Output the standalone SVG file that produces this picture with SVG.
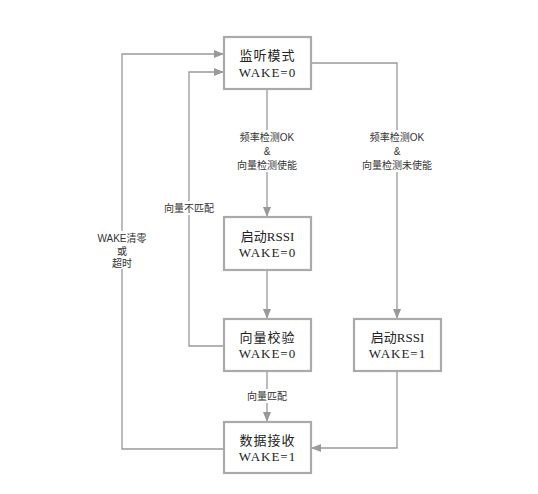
<svg xmlns="http://www.w3.org/2000/svg" width="538" height="494" viewBox="0 0 538 494">
<defs>
<marker id="ah" markerWidth="10" markerHeight="8" refX="10" refY="4" orient="auto" markerUnits="userSpaceOnUse">
<path d="M0,0 L10,4 L0,8 Z" fill="#999"/>
</marker>
<style>
.box{fill:#fff;stroke:#aaa;stroke-width:2.2}
.t{font-family:"Liberation Serif","Noto Sans CJK SC",serif;font-size:13px;fill:#222;text-anchor:middle}
.l{font-family:"Liberation Sans","Noto Sans CJK SC",sans-serif;font-size:10px;fill:#333;text-anchor:middle}
.c{fill:none;stroke:#999;stroke-width:1.3}
.bg{fill:#fff}
</style>
</defs>
<rect width="538" height="494" fill="#fff"/>
<g id="connectors">
<path class="c" d="M267,89 V217" marker-end="url(#ah)"/>
<path class="c" d="M267,270 V319" marker-end="url(#ah)"/>
<path class="c" d="M267,371 V422" marker-end="url(#ah)"/>
<path class="c" d="M311,63 H397 V319" marker-end="url(#ah)"/>
<path class="c" d="M397,371 V448 H311" marker-end="url(#ah)"/>
<path class="c" d="M224,346 H189 V72 H224" marker-end="url(#ah)"/>
<path class="c" d="M224,449 H122 V54 H224" marker-end="url(#ah)"/>
<rect class="bg" x="236" y="130" width="62" height="42"/>
<text class="l" x="267" y="141">频率检测OK</text>
<text class="l" x="267" y="155">&amp;</text>
<text class="l" x="267" y="169">向量检测使能</text>
<rect class="bg" x="362" y="130" width="70" height="42"/>
<text class="l" x="397" y="141">频率检测OK</text>
<text class="l" x="397" y="155">&amp;</text>
<text class="l" x="397" y="169">向量检测未使能</text>
<rect class="bg" x="164" y="201" width="50" height="14"/>
<text class="l" x="189" y="212">向量不匹配</text>
<rect class="bg" x="95" y="231" width="54" height="38"/>
<text class="l" x="122" y="242">WAKE清零</text>
<text class="l" x="122" y="255">或</text>
<text class="l" x="122" y="267">超时</text>
<rect class="bg" x="245" y="389" width="44" height="14"/>
<text class="l" x="267" y="400">向量匹配</text>
</g>
<g id="n1">
<rect class="box" x="224" y="37" width="87" height="52"/>
<text class="t" x="267.5" y="60" letter-spacing="1">监听模式</text>
<text class="t" x="267.5" y="77" letter-spacing="1">WAKE=0</text>
</g>
<g id="n2">
<rect class="box" x="224" y="217" width="87" height="53"/>
<text class="t" x="267.5" y="241">启动RSSI</text>
<text class="t" x="267.5" y="257" letter-spacing="1">WAKE=0</text>
</g>
<g id="n3">
<rect class="box" x="224" y="319" width="87" height="52"/>
<text class="t" x="267.5" y="342" letter-spacing="1">向量校验</text>
<text class="t" x="267.5" y="358" letter-spacing="1">WAKE=0</text>
</g>
<g id="n4">
<rect class="box" x="354" y="319" width="87" height="52"/>
<text class="t" x="397.5" y="342">启动RSSI</text>
<text class="t" x="397.5" y="358" letter-spacing="1">WAKE=1</text>
</g>
<g id="n5">
<rect class="box" x="224" y="422" width="87" height="51"/>
<text class="t" x="267.5" y="445" letter-spacing="1">数据接收</text>
<text class="t" x="267.5" y="461" letter-spacing="1">WAKE=1</text>
</g>
</svg>
